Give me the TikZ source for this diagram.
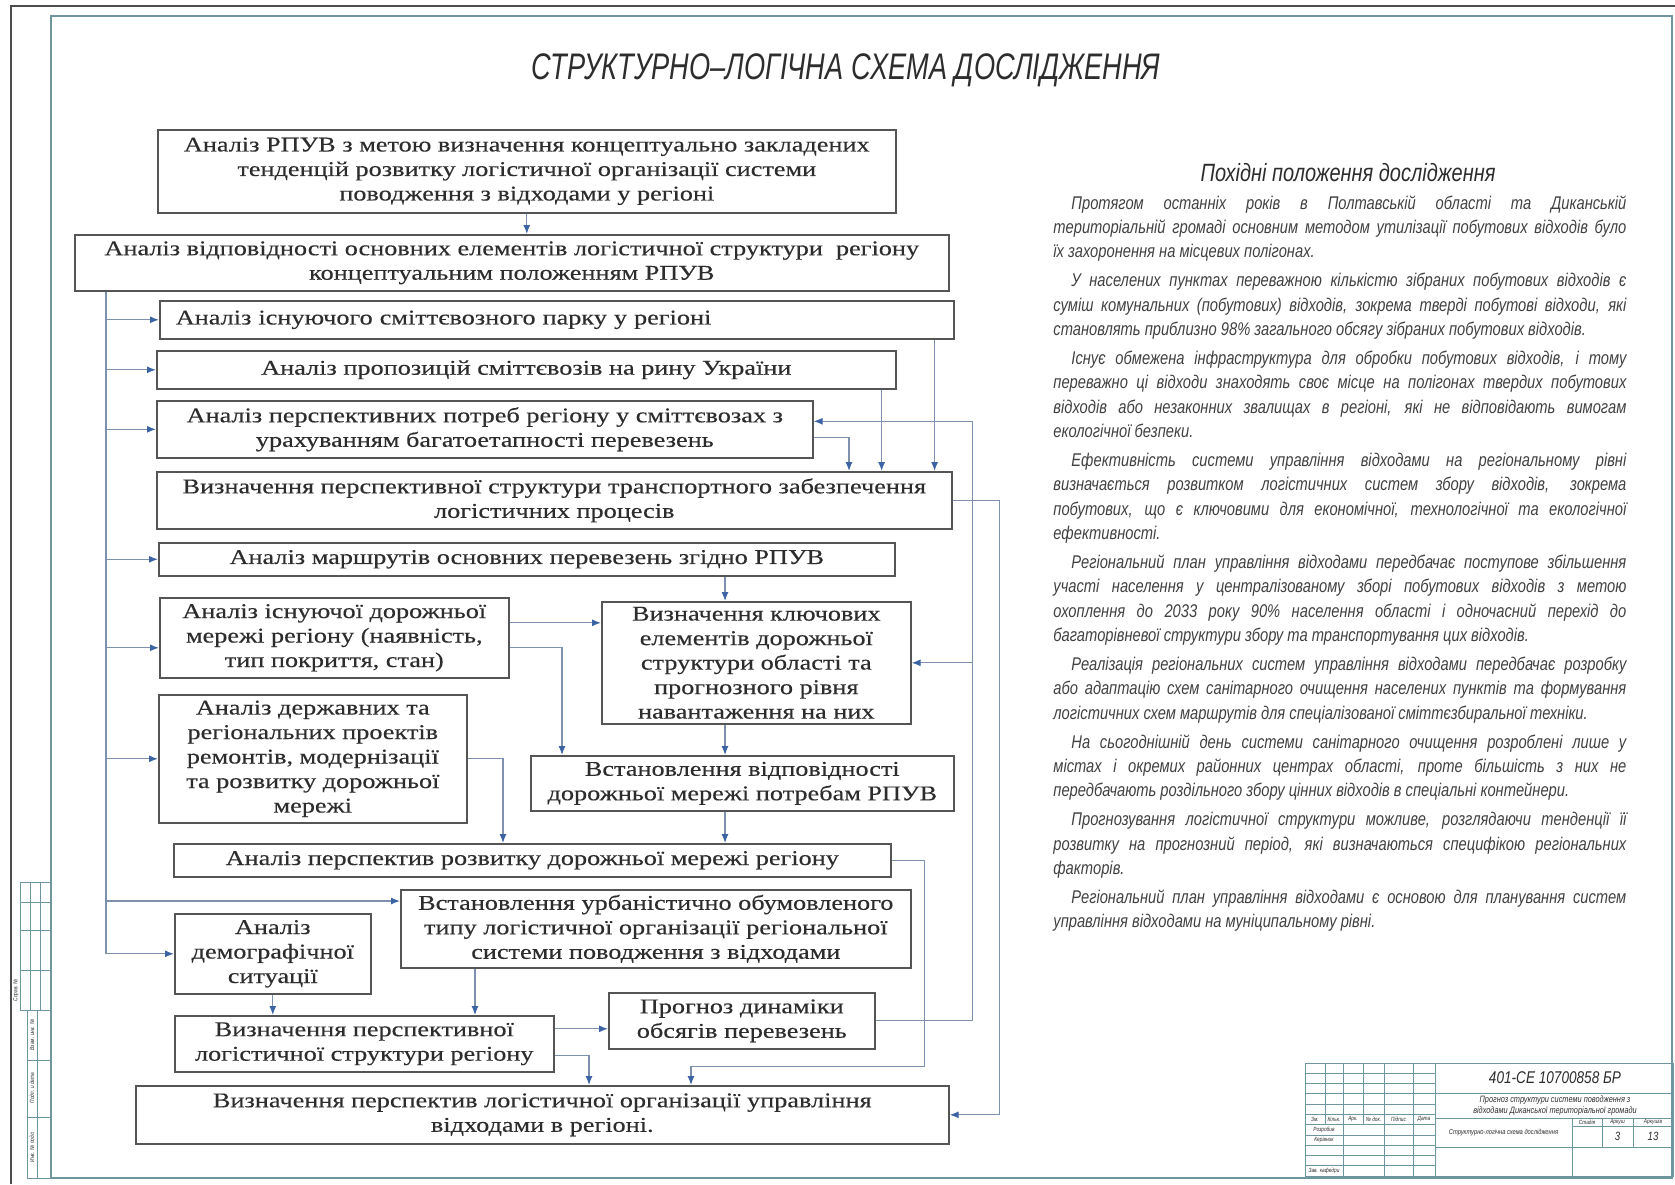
\documentclass[tikz,border=0pt]{standalone}
\usepackage{fontspec}
\setmainfont{Liberation Serif}[FakeStretch=1.25,FakeBold=0.3]
\newfontfamily\gost{Liberation Sans}[FakeStretch=0.8]
\newfontfamily\gosttitle{Liberation Sans}[FakeStretch=0.735]
\usepackage{tikz}
\usetikzlibrary{calc}
\usetikzlibrary{arrows.meta}

\definecolor{boxline}{RGB}{85,85,85}
\definecolor{linkline}{RGB}{125,145,175}
\definecolor{tipblue}{RGB}{60,100,165}
\definecolor{framec}{RGB}{110,150,158}
\definecolor{txt}{RGB}{45,45,45}
\definecolor{ltxt}{RGB}{65,65,65}

\tikzset{
  box/.style={draw=boxline, line width=0.8pt, align=center, inner sep=2pt, anchor=north west,
    font=\fontsize{10.5}{12.25}\selectfont, text=txt},
  link/.style={draw=linkline, line width=0.6pt},
  arrow/.style={link, -{Latex[length=4.5pt,width=3.5pt,color=tipblue]}},
  stampline/.style={draw=framec, line width=0.4pt},
  stamptext/.style={font=\gost\itshape\fontsize{3}{3.5}\selectfont, text=txt, inner sep=0pt}
}

\begin{document}
\begin{tikzpicture}[x=0.5pt,y=-0.5pt]
                \useasboundingbox (0,0) rectangle (1675,1184);

                % рамка аркуша
                \draw[black!70, line width=0.6pt] (11,1184) -- (11,6) -- (1675,6);
                \draw[framec, line width=1.2pt] (51,16) rectangle (1672,1178);

                \node[font=\gosttitle\itshape\fontsize{18.5}{21}\selectfont, text=txt] (title) at (846,70) {СТРУКТУРНО–ЛОГІЧНА СХЕМА ДОСЛІДЖЕННЯ};

                % блоки схеми
                \node[box, minimum width=369pt, minimum height=41.5pt] (b1) at (157,129) {Аналіз РПУВ з метою визначення концептуально закладених\\тенденцій розвитку логістичної організації системи\\поводження з відходами у регіоні};
                \node[box, minimum width=437pt, minimum height=28pt] (b2) at (74,234) {Аналіз відповідності основних елементів логістичної структури\ \ регіону\\концептуальним положенням РПУВ};
                \node[box, minimum width=397pt, minimum height=19pt, text width=381pt, align=left, inner xsep=8pt] (b3) at (159,300) {Аналіз існуючого сміттєвозного парку у регіоні};
                \node[box, minimum width=369.5pt, minimum height=19pt] (b4) at (156,350) {Аналіз пропозицій сміттєвозів на рину України};
                \node[box, minimum width=328pt, minimum height=28.5pt] (b5) at (156,400) {Аналіз перспективних потреб регіону у сміттєвозах з\\урахуванням багатоетапності перевезень};
                \node[box, minimum width=397.5pt, minimum height=28.5pt] (b6) at (156,471) {Визначення перспективної структури транспортного забезпечення\\логістичних процесів};
                \node[box, minimum width=368pt, minimum height=16.5pt] (b7) at (158,542) {Аналіз маршрутів основних перевезень згідно РПУВ};
                \node[box, minimum width=174.5pt, minimum height=40pt] (b8) at (159,597) {Аналіз існуючої дорожньої\\мережі регіону (наявність,\\тип покриття, стан)};
                \node[box, minimum width=154.5pt, minimum height=61pt] (b9) at (601,601) {Визначення ключових\\елементів дорожньої\\структури області та\\прогнозного рівня\\навантаження на них};
                \node[box, minimum width=154pt, minimum height=64pt] (b10) at (158,694) {Аналіз державних та\\регіональних проектів\\ремонтів, модернізації\\та розвитку дорожньої\\мережі};
                \node[box, minimum width=211.5pt, minimum height=27.5pt] (b11) at (530,755) {Встановлення відповідності\\дорожньої мережі потребам РПУВ};
                \node[box, minimum width=358.5pt, minimum height=16.5pt] (b12) at (173,843) {Аналіз перспектив розвитку дорожньої мережі регіону};
                \node[box, minimum width=255pt, minimum height=39pt] (b13) at (400,889) {Встановлення урбаністично обумовленого\\типу логістичної організації регіональної\\системи поводження з відходами};
                \node[box, minimum width=98pt, minimum height=40pt] (b14) at (174,913) {Аналіз\\демографічної\\ситуації};
                \node[box, minimum width=133pt, minimum height=28pt] (b15) at (608,992) {Прогноз динаміки\\обсягів перевезень};
                \node[box, minimum width=189.5pt, minimum height=28pt] (b16) at (174,1015) {Визначення перспективної\\логістичної структури регіону};
                \node[box, minimum width=406.5pt, minimum height=29pt] (b17) at (135,1085) {Визначення перспектив логістичної організації управління\\відходами в регіоні.};

                % зв'язки
                \draw[arrow] (b1.south) -- (b1.south |- b2.north);
                \coordinate (lb) at ($(b2.south west)+(32,0)$);
                \draw[link] (lb) -- (lb |- b14.west);
                \foreach \n in {b3,b4,b5,b7,b10,b14}
                    \draw[arrow] (lb |- \n.west) -- (\n.west);
                \coordinate (b8w) at ($(b8.west)+(0,10)$);
                \coordinate (b13w) at ($(b13.north west)+(0,12)$);
                \draw[arrow] (lb |- b8w) -- (b8w);
                \draw[arrow] (lb |- b13w) -- (b13w);

                \coordinate (b3s) at ($(b3.south east)+(-20,0)$);
                \coordinate (b4s) at ($(b4.south east)+(-15,0)$);
                \draw[arrow] (b3s) -- (b3s |- b6.north);
                \draw[arrow] (b4s) -- (b4s |- b6.north);
                \draw[arrow] ($(b5.east)+(0,8)$) -| ($(b6.north west)+(693,0)$);

                \draw[arrow] (b6.east) -- ++(47,0) |- (b17.east);
                \coordinate (rb) at ($(b15.east)+(97,0)$);
                \draw[arrow] (b15.east) -- (rb) |- ($(b5.east)+(0,-8)$);
                \draw[arrow] (rb |- b9.east) -- (b9.east);

                \coordinate (mid) at (725,0);
                \draw[arrow] (b7.south -| mid) -- (b9.north -| mid);
                \draw[arrow] (b9.south -| mid) -- (b11.north -| mid);
                \draw[arrow] (b11.south -| mid) -- (b12.north -| mid);
                \coordinate (b8e) at ($(b8.east)+(0,-15)$);
                \draw[arrow] (b8e) -- (b8e -| b9.west);
                \draw[arrow] ($(b8.east)+(0,10)$) -| ($(b11.north west)+(32,0)$);
                \draw[arrow] (b10.east) -| ($(b12.north west)+(330,0)$);

                \draw[arrow] (b12.east) -- ++(33,0) -- ++(0,206.5) -| ($(b17.north west)+(556,0)$);
                \coordinate (b13s) at ($(b13.south west)+(75,0)$);
                \draw[arrow] (b13s) -- (b13s |- b16.north);
                \draw[arrow] (b14.south) -- (b14.south |- b16.north);
                \coordinate (b16e) at ($(b16.east)+(0,-15)$);
                \draw[arrow] (b16e) -- (b16e -| b15.west);
                \draw[arrow] ($(b16.east)+(0,12)$) -| ($(b17.north west)+(454,0)$);

                % вихідні положення
                \node[font=\gost\itshape\fontsize{12.5}{14}\selectfont, text=txt] (phead) at (1348,173) {Похідні положення дослідження};
                \node[anchor=north west, text width=286.5pt, inner sep=0pt, align=justify, text=ltxt,
                      font=\gost\itshape\fontsize{9.2}{12.15}\selectfont] (ptext) at (1053,195) {\setlength\parskip{2.4pt}\tolerance=9999
\hspace*{9pt}Протягом останніх років в Полтавській області та Диканській\linebreak територіальній громаді основним методом утилізації побутових відходів було\linebreak їх захоронення на місцевих полігонах.\par
\hspace*{9pt}У населених пунктах переважною кількістю зібраних побутових відходів є\linebreak суміш комунальних (побутових) відходів, зокрема тверді побутові відходи, які\linebreak становлять приблизно 98\% загального обсягу зібраних побутових відходів.\par
\hspace*{9pt}Існує обмежена інфраструктура для обробки побутових відходів, і тому\linebreak переважно ці відходи знаходять своє місце на полігонах твердих побутових\linebreak відходів або незаконних звалищах в регіоні, які не відповідають вимогам\linebreak екологічної безпеки.\par
\hspace*{9pt}Ефективність системи управління відходами на регіональному рівні\linebreak визначається розвитком логістичних систем збору відходів, зокрема\linebreak побутових, що є ключовими для економічної, технологічної та екологічної\linebreak ефективності.\par
\hspace*{9pt}Регіональний план управління відходами передбачає поступове збільшення\linebreak участі населення у централізованому зборі побутових відходів з метою\linebreak охоплення до 2033 року 90\% населення області і одночасний перехід до\linebreak багаторівневої структури збору та транспортування цих відходів.\par
\hspace*{9pt}Реалізація регіональних систем управління відходами передбачає розробку\linebreak або адаптацію схем санітарного очищення населених пунктів та формування\linebreak логістичних схем маршрутів для спеціалізованої сміттєзбиральної техніки.\par
\hspace*{9pt}На сьогоднішній день системи санітарного очищення розроблені лише у\linebreak містах і окремих районних центрах області, проте більшість з них не\linebreak передбачають роздільного збору цінних відходів в спеціальні контейнери.\par
\hspace*{9pt}Прогнозування логістичної структури можливе, розглядаючи тенденції її\linebreak розвитку на прогнозний період, які визначаються специфікою регіональних\linebreak факторів.\par
\hspace*{9pt}Регіональний план управління відходами є основою для планування систем\linebreak управління відходами на муніципальному рівні.};

                % бокова графа
                \draw[stampline] (20,882) rectangle (51,1010);
                \foreach \x in {30,40} \draw[stampline] (\x,882) -- (\x,1010);
                \foreach \y in {902,930,970} \draw[stampline] (20,\y) -- (51,\y);
                \draw[stampline] (27,1010) rectangle (51,1178);
                \draw[stampline] (37,1010) -- (37,1178);
                \foreach \y in {1060,1117} \draw[stampline] (27,\y) -- (51,\y);
                \node[stamptext, rotate=90] (s1) at (16,990) {Справ. №};
                \node[stamptext, rotate=90] (s2) at (32,1035) {Взам. инв. №};
                \node[stamptext, rotate=90] (s3) at (32,1088) {Подп. и дата};
                \node[stamptext, rotate=90] (s4) at (32,1147) {Инв. № подл.};

                % основний напис
                \draw[stampline] (1305,1063) rectangle (1673,1176);
                \foreach \x in {1343,1384,1413,1435} \draw[stampline] (\x,1063) -- (\x,1176);
                \foreach \x in {1325,1363} \draw[stampline] (\x,1063) -- (\x,1124.6);
                \foreach \k in {1,...,10} \draw[stampline] (1305,{1063+10.27*\k}) -- (1435,{1063+10.27*\k});
                \foreach \y in {1093,1118,1147} \draw[stampline] (1435,\y) -- (1673,\y);
                \draw[stampline] (1572,1126) -- (1673,1126);
                \draw[stampline] (1572,1118) -- (1572,1176);
                \foreach \x in {1602,1633} \draw[stampline] (\x,1118) -- (\x,1147);
                \node[stamptext] (h1) at (1315,1119.5) {Зм.};
                \node[stamptext] (h2) at (1334,1119.5) {Кільк.};
                \node[stamptext] (h3) at (1353,1119.5) {Арк.};
                \node[stamptext] (h4) at (1373.5,1119.5) {№ док.};
                \node[stamptext] (h5) at (1398.5,1119.5) {Підпис};
                \node[stamptext] (h6) at (1424,1119.5) {Дата};
                \node[stamptext] (r1) at (1324,1129.8) {Розробив};
                \node[stamptext] (r2) at (1324,1140) {Керівник};
                \node[stamptext] (r3) at (1324,1171) {Зав. кафедри};
                \node[font=\gost\itshape\fontsize{8.5}{10}\selectfont, text=txt] (code) at (1555,1078) {401-СЕ 10700858 БР};
                \node[font=\gost\itshape\fontsize{4.6}{5.4}\selectfont, text=txt, align=center] (topic) at (1555,1105.5) {Прогноз структури системи поводження з\\відходами Диканської територіальної громади};
                \node[font=\gost\itshape\fontsize{3.6}{4}\selectfont, text=txt] (sheet) at (1503.5,1132.5) {Структурно-логічна схема дослідження};
                \node[stamptext] (c1) at (1587,1122) {Стадія};
                \node[stamptext] (c2) at (1617.5,1122) {Аркуш};
                \node[stamptext] (c3) at (1653,1122) {Аркушів};
                \node[font=\gost\itshape\fontsize{6}{7}\selectfont, text=txt] (v2) at (1617.5,1136.5) {3};
                \node[font=\gost\itshape\fontsize{6}{7}\selectfont, text=txt] (v3) at (1653,1136.5) {13};

\end{tikzpicture}
\end{document}
